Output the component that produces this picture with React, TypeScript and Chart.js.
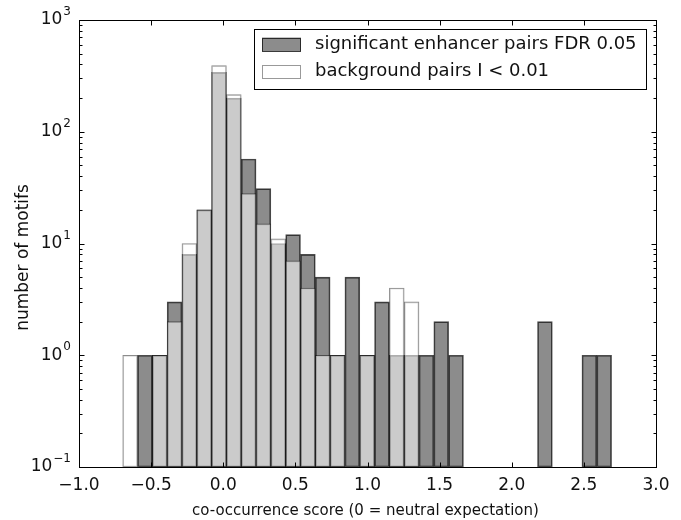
import React, { useEffect, useRef } from "react";
import { Chart, registerables } from "chart.js";

Chart.register(...registerables);

// Histogram bin definition (x units)
const BIN_START = -0.697;
const BIN_WIDTH = 0.1027;

// Counts per bin
const SIGNIFICANT = [0, 1, 1, 3, 8, 20, 340, 200, 57, 31, 10, 12, 8, 5, 1, 5, 1, 3, 1, 1, 1, 2, 1, 0, 0, 0, 0, 0, 2, 0, 0, 1, 1];
const BACKGROUND = [1, 0, 1, 2, 10, 20, 390, 215, 28, 15, 11, 7, 4, 1, 1, 0, 1, 0, 4, 3, 0, 0, 0, 0, 0, 0, 0, 0, 0, 0, 0, 0, 0];

const X_TICKS = [-1.0, -0.5, 0.0, 0.5, 1.0, 1.5, 2.0, 2.5, 3.0];
const Y_DECADES = [-1, 0, 1, 2, 3];

const LABEL_SIG = "significant enhancer pairs FDR 0.05";
const LABEL_BG = "background pairs I < 0.01";
const X_TITLE = "co-occurrence score (0 = neutral expectation)";
const Y_TITLE = "number of motifs";

const FONT = "'DejaVu Sans', 'Liberation Sans', sans-serif";
const TEXT = "#111";

const SIG_FILL = "rgba(0,0,0,0.45)";
const SIG_EDGE = "rgba(0,0,0,0.70)";
const BG_FILL = "rgba(255,255,255,0.55)";
const BG_EDGE = "rgba(0,0,0,0.45)";

const toPoints = (counts: number[]) =>
  counts
    .map((c, i) => ({ x: BIN_START + (i + 0.5) * BIN_WIDTH, y: c }))
    .filter((p) => p.y > 0);

const fmtX = (v: number) => {
  const s = Math.abs(v).toFixed(1);
  return v < 0 ? "\u2212" + s : s;
};

const decor = {
  id: "decor",
  afterDraw(chart: any) {
    const { ctx, chartArea: a, scales } = chart;
    const xs = scales.x;
    const ys = scales.y;
    ctx.save();
    ctx.strokeStyle = "#000";
    ctx.lineWidth = 1;

    const L = Math.round(a.left) + 0.5;
    const R = Math.round(a.right) + 0.5;
    const T = Math.round(a.top) + 0.5;
    const B = Math.round(a.bottom) + 0.5;

    // ticks (inward)
    ctx.beginPath();
    for (const v of X_TICKS) {
      const px = Math.round(xs.getPixelForValue(v)) + 0.5;
      ctx.moveTo(px, B);
      ctx.lineTo(px, B - 5);
      ctx.moveTo(px, T);
      ctx.lineTo(px, T + 5);
    }
    for (const d of Y_DECADES) {
      for (let m = 1; m <= 9; m++) {
        const v = m * Math.pow(10, d);
        if (v > 1000.0001) break;
        const py = Math.round(ys.getPixelForValue(v)) + 0.5;
        const len = m === 1 ? 5 : 3;
        ctx.moveTo(L, py);
        ctx.lineTo(L + len, py);
        ctx.moveTo(R, py);
        ctx.lineTo(R - len, py);
      }
    }
    ctx.stroke();

    // frame
    ctx.strokeRect(L, T, R - L, B - T);

    // y tick labels 10^n
    ctx.fillStyle = TEXT;
    for (const d of Y_DECADES) {
      const py = ys.getPixelForValue(Math.pow(10, d));
      const exp = d < 0 ? "\u2212" + Math.abs(d) : String(d);
      ctx.font = `17px ${FONT}`;
      const wb = ctx.measureText("10").width;
      ctx.font = `12px ${FONT}`;
      const we = ctx.measureText(exp).width;
      const right = a.left - 9;
      const x0 = right - wb - we;
      ctx.textBaseline = "middle";
      ctx.textAlign = "left";
      ctx.font = `17px ${FONT}`;
      ctx.fillText("10", x0, py);
      ctx.font = `12px ${FONT}`;
      ctx.fillText(exp, x0 + wb + 1, py - 8);
    }

    // axis titles
    ctx.font = `15px ${FONT}`;
    ctx.textAlign = "center";
    ctx.textBaseline = "middle";
    ctx.fillText(X_TITLE, (a.left + a.right) / 2 - 2, 511);
    ctx.save();
    ctx.translate(24, (a.top + a.bottom) / 2 + 14);
    ctx.rotate(-Math.PI / 2);
    ctx.font = `17px ${FONT}`;
    ctx.fillText(Y_TITLE, 0, 0);
    ctx.restore();

    // legend
    const lx = 254.5, ly = 29.5, lw = 392, lh = 60;
    ctx.fillStyle = "#fff";
    ctx.fillRect(lx, ly, lw, lh);
    ctx.strokeStyle = "#000";
    ctx.strokeRect(lx, ly, lw, lh);
    const entries = [
      { label: LABEL_SIG, fill: SIG_FILL, edge: SIG_EDGE, cy: 44.5 },
      { label: LABEL_BG, fill: "#fff", edge: "rgba(0,0,0,0.4)", cy: 71.5 },
    ];
    for (const e of entries) {
      ctx.fillStyle = e.fill;
      ctx.fillRect(262, e.cy - 7, 39, 14);
      ctx.strokeStyle = e.edge;
      ctx.strokeRect(262.5, Math.round(e.cy - 7) + 0.5, 38, 13);
      ctx.fillStyle = TEXT;
      ctx.font = `18px ${FONT}`;
      ctx.textAlign = "left";
      ctx.textBaseline = "middle";
      ctx.fillText(e.label, 315, e.cy);
    }
    ctx.restore();
  },
};

export default function App() {
  const ref = useRef<HTMLCanvasElement | null>(null);
  useEffect(() => {
    if (!ref.current) return;
    const chart = new Chart(ref.current, {
      type: "bar",
      data: {
        datasets: [
          {
            label: LABEL_SIG,
            data: toPoints(SIGNIFICANT),
            backgroundColor: SIG_FILL,
            borderColor: SIG_EDGE,
            borderWidth: 1,
            borderSkipped: false,
            grouped: false,
            barPercentage: 1,
            categoryPercentage: 1,
            order: 2,
          } as any,
          {
            label: LABEL_BG,
            data: toPoints(BACKGROUND),
            backgroundColor: BG_FILL,
            borderColor: BG_EDGE,
            borderWidth: 1,
            borderSkipped: false,
            grouped: false,
            barPercentage: 1,
            categoryPercentage: 1,
            order: 1,
          } as any,
        ],
      },
      options: {
        responsive: false,
        animation: false,
        devicePixelRatio: 1,
        layout: { padding: { top: 20, right: 25, left: 0, bottom: 0 } },
        plugins: { legend: { display: false }, tooltip: { enabled: false } },
        scales: {
          x: {
            type: "linear",
            min: -1,
            max: 3,
            offset: false,
            grid: { display: false, drawTicks: false },
            border: { display: false },
            afterBuildTicks: (s: any) => {
              s.ticks = X_TICKS.map((v) => ({ value: v }));
            },
            afterFit: (s: any) => {
              s.height = 53;
            },
            ticks: {
              padding: 8,
              color: TEXT,
              maxRotation: 0,
              autoSkip: false,
              font: { family: FONT, size: 17 },
              callback: (v: any) => fmtX(Number(v)),
            },
          },
          y: {
            type: "logarithmic",
            min: 0.1,
            max: 1000,
            grid: { display: false, drawTicks: false },
            border: { display: false },
            ticks: { display: false },
            afterFit: (s: any) => {
              s.width = 79;
            },
          },
        },
      },
      plugins: [decor],
    });
    return () => chart.destroy();
  }, []);
  return (
    <div style={{ position: "absolute", left: 0, top: 0, width: 681, height: 520, background: "#fff" }}>
      <canvas ref={ref} width={681} height={520} />
    </div>
  );
}
